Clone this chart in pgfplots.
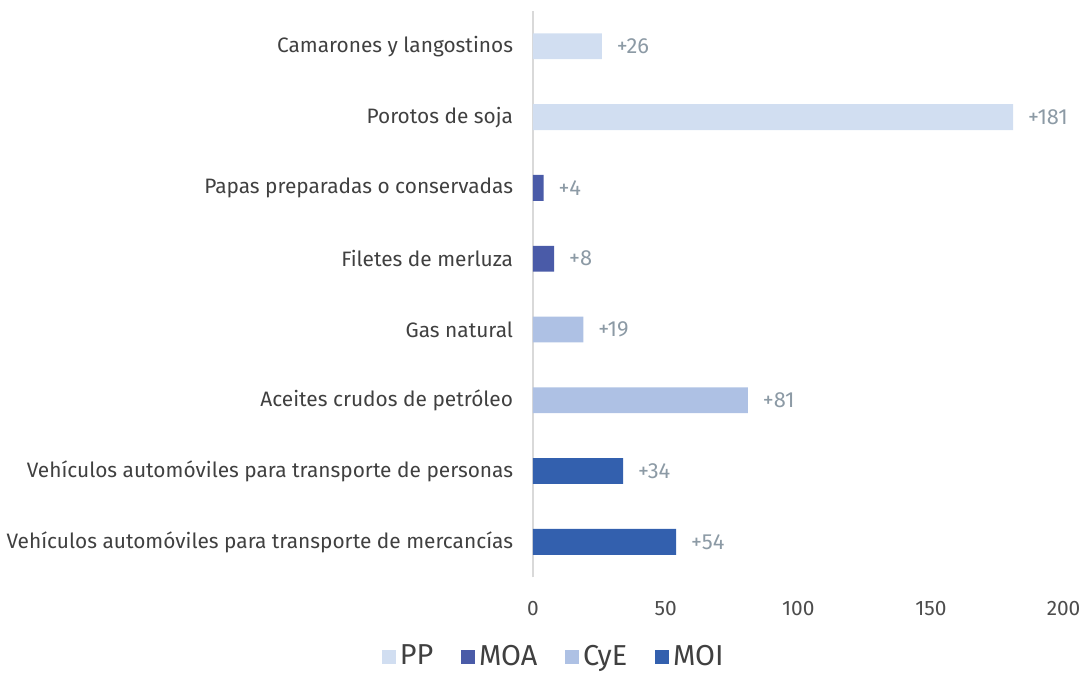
\documentclass[border=0pt]{standalone}
\usepackage{pgfplots}
\pgfplotsset{compat=1.18}
\usepackage{fontspec}
\setmainfont{Fira Sans}
\definecolor{ppc}{HTML}{D1DEF1}
\definecolor{moac}{HTML}{4A5BA8}
\definecolor{cyec}{HTML}{AEC1E4}
\definecolor{moic}{HTML}{3360AE}
\definecolor{labc}{HTML}{404040}
\definecolor{valc}{HTML}{8C9AA5}
\begin{document}
\begin{tikzpicture}
\begin{axis}[
    xbar, bar shift=0pt, bar width=13pt,
    scale only axis, width=267pt, height=285pt,
    xmin=0, xmax=200, ymin=-0.5, ymax=7.5,
    xtick={0,50,100,150,200},
    ytick={0,...,7},
    yticklabels={Vehículos automóviles para transporte de mercancías,
        Vehículos automóviles para transporte de personas,
        Aceites crudos de petróleo, Gas natural, Filetes de merluza,
        Papas preparadas o conservadas, Porotos de soja, Camarones y langostinos},
    axis lines=left,
    x axis line style={draw=none},
    y axis line style={draw=black!15, line width=1.2pt, -},
    major tick length=0pt,
    tick label style={font=\fontsize{10.5}{12}\selectfont, text=labc},
    xticklabel style={yshift=-8.5pt, text=black!70},
    yticklabel style={xshift=-6.5pt},
    /pgf/number format/assume math mode=true,
    nodes near coords={+\pgfmathprintnumber{\pgfplotspointmeta}},
    nodes near coords style={font=\fontsize{11}{13}\selectfont, text=valc, xshift=4pt},
    point meta=x,
    legend style={at={(0.041,-0.14)}, anchor=center, draw=none,
        legend columns=4, font=\fontsize{14.5}{16}\selectfont, text=labc,
        /tikz/every even column/.append style={column sep=12pt}},
    legend image code/.code={\fill[#1] (0pt,-3.5pt) rectangle (7pt,3.5pt);},
]
\addplot[fill=ppc, draw=none] coordinates {(26,7) (181,6)};
\addplot[fill=moac, draw=none] coordinates {(4,5) (8,4)};
\addplot[fill=cyec, draw=none] coordinates {(19,3) (81,2)};
\addplot[fill=moic, draw=none] coordinates {(34,1) (54,0)};
\legend{PP, MOA, CyE, MOI}
\end{axis}
\path ([yshift=5.5pt]current axis.north);
\end{tikzpicture}
\end{document}
